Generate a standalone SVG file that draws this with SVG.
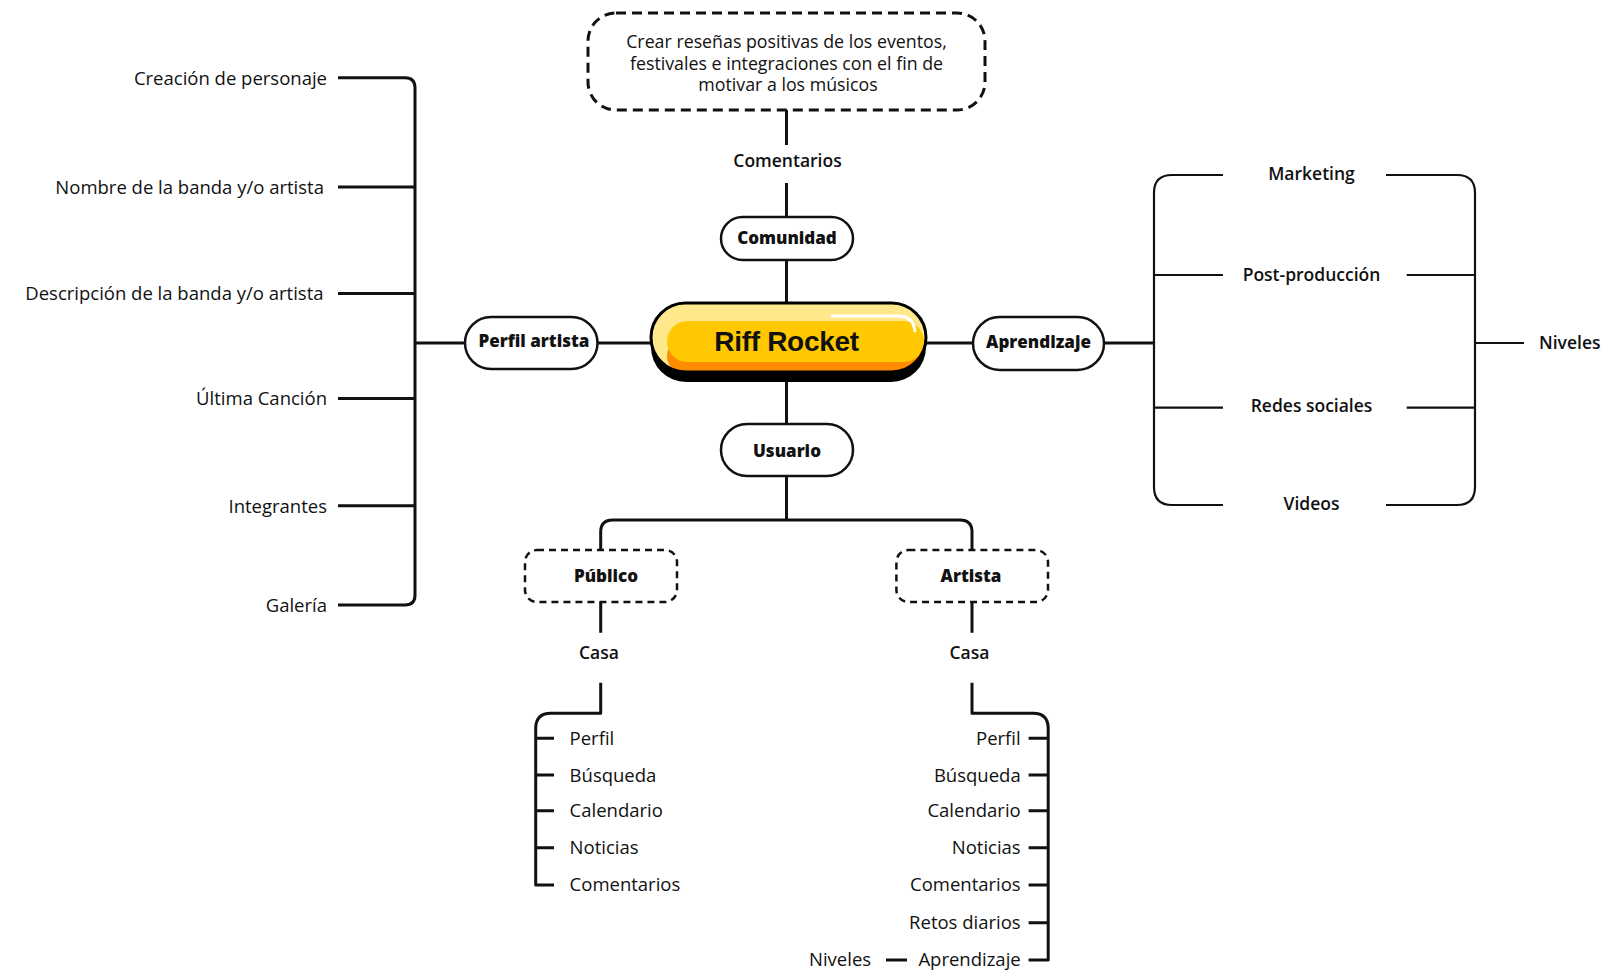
<svg xmlns="http://www.w3.org/2000/svg" width="1601" height="972" viewBox="0 0 1601 972">
<style>
.ln{fill:none;stroke:#111;stroke-width:3;stroke-linejoin:round}
.thin{fill:none;stroke:#111;stroke-width:2.2}
.box{fill:#fff;stroke:#111;stroke-width:2.5}
.dbig{fill:#fff;stroke:#111;stroke-width:3;stroke-dasharray:10 6}
.dsm{fill:#fff;stroke:#111;stroke-width:2.5;stroke-dasharray:7 5}
text{font-family:"Open Sans","Liberation Sans",sans-serif;fill:#111}
.r{font-size:18.5px;font-weight:400}
.t{font-size:17.8px;font-weight:400}
.s{font-size:17.5px;font-weight:600}
.b{font-size:17px;font-weight:800}
.c{text-anchor:middle}
.e{text-anchor:end}
</style>
<defs>
<clipPath id="pill"><rect x="651" y="303" width="275" height="69" rx="34.5"/></clipPath>
</defs>
<rect width="1601" height="972" fill="#fff"/>
<g id="connectors">
<path class="ln" d="M786.5,110V145M786.5,183V217M786.5,260V303M786.5,382V424M786.5,476V520"/>
<path class="ln" d="M600.7,550V532Q600.7,520 612.7,520H960Q972,520 972,532V550"/>
<path class="ln" d="M338,77.7H405Q415,77.7 415,87.7V595Q415,605 405,605H338M338,186.9H415M338,293.4H415M338,398.5H415M338,505.8H415M415,343H465M597.5,343H651"/>
<path class="ln" d="M926,343H973M1104,343H1154"/>
<path class="thin" d="M1223,175H1172Q1154,175 1154,193V487Q1154,505 1172,505H1223M1154,275H1223M1154,407.7H1223"/>
<path class="thin" d="M1386,175H1457Q1475,175 1475,193V487Q1475,505 1457,505H1386M1406.7,275H1475M1406.7,407.7H1475M1475,343H1524"/>
<path class="ln" d="M600.7,601.7V632.7M600.7,682.7V713.3H551Q535.7,713.3 535.7,728.6V885H554M535.7,738.3H554M535.7,775H554M535.7,810.7H554M535.7,847.7H554"/>
<path class="ln" d="M972,601.7V632.7M972,682.7V713.3H1033Q1048.2,713.3 1048.2,728.5V960H1028.6M1028.6,738.3H1048.2M1028.6,775H1048.2M1028.6,810.7H1048.2M1028.6,847.7H1048.2M1028.6,885H1048.2M1028.6,922.7H1048.2"/>
<path class="ln" d="M886,960H907"/>
</g>
<g id="n-nota">
<rect class="dbig" x="588" y="13" width="397" height="97" rx="28"/>
<text class="t c" x="786.5" y="48">Crear reseñas positivas de los eventos,</text>
<text class="t c" x="786.5" y="69.5">festivales e integraciones con el fin de</text>
<text class="t c" x="788" y="91">motivar a los músicos</text>
</g>
<g id="n-comentarios-top"><text class="s c" x="787.5" y="167">Comentarios</text></g>
<g id="n-comunidad">
<rect class="box" x="721" y="217" width="132" height="43" rx="21.5"/>
<text class="b c" x="787" y="244">Comunidad</text>
</g>
<g id="n-riff">
<rect x="651" y="312" width="275" height="70" rx="35" fill="#000"/>
<rect x="651" y="303" width="275" height="69" rx="34.5" fill="#FFE88C"/>
<g clip-path="url(#pill)">
<rect x="667" y="338" width="257" height="36" rx="18" fill="#FF8C00"/>
<rect x="667" y="321" width="257" height="41" rx="20.5" fill="#FFC800"/>
</g>
<rect x="651" y="303" width="275" height="69" rx="34.5" fill="none" stroke="#000" stroke-width="3"/>
<path d="M832,316H898Q913,316 915,331" fill="none" stroke="#fff" stroke-width="3" stroke-linecap="round"/>
<text x="786.5" y="351" text-anchor="middle" style="font-family:'Liberation Sans',Arial,sans-serif;font-size:28px;font-weight:700;letter-spacing:-0.3px" fill="#111">Riff Rocket</text>
</g>
<g id="n-perfil">
<rect class="box" x="465" y="317" width="132.5" height="52" rx="26"/>
<text class="b c" x="534" y="347">Perfil artista</text>
</g>
<g id="n-aprendizaje">
<rect class="box" x="973" y="317" width="131" height="53" rx="26.5"/>
<text class="b c" x="1038.5" y="348">Aprendizaje</text>
</g>
<g id="n-usuario">
<rect class="box" x="721" y="424" width="132" height="52" rx="26"/>
<text class="b c" x="787" y="457">Usuario</text>
</g>
<g id="n-perfil-items">
<text class="r e" x="327" y="85">Creación de personaje</text>
<text class="r e" x="324" y="193.5">Nombre de la banda y/o artista</text>
<text class="r e" x="323.5" y="300">Descripción de la banda y/o artista</text>
<text class="r e" x="327" y="405">Última Canción</text>
<text class="r e" x="327" y="512.5">Integrantes</text>
<text class="r e" x="327" y="611.5">Galería</text>
</g>
<g id="n-aprend-items">
<text class="s c" x="1311.5" y="180">Marketing</text>
<text class="s c" x="1311.5" y="281">Post-producción</text>
<text class="s c" x="1311.5" y="412">Redes sociales</text>
<text class="s c" x="1311.5" y="509.5">Videos</text>
<text class="s" x="1539" y="348.5">Niveles</text>
</g>
<g id="n-publico">
<rect class="dsm" x="525" y="550" width="152" height="52" rx="12"/>
<text class="b c" x="606" y="582">Público</text>
</g>
<g id="n-artista">
<rect class="dsm" x="896.4" y="550" width="151.6" height="52" rx="12"/>
<text class="b c" x="971" y="582">Artista</text>
</g>
<g id="n-casa-publico"><text class="s c" x="599" y="658.5">Casa</text></g>
<g id="n-casa-artista"><text class="s c" x="969.5" y="658.5">Casa</text></g>
<g id="n-publico-items">
<text class="r" x="569.6" y="745">Perfil</text>
<text class="r" x="569.6" y="781.5">Búsqueda</text>
<text class="r" x="569.6" y="817">Calendario</text>
<text class="r" x="569.6" y="854">Noticias</text>
<text class="r" x="569.6" y="891">Comentarios</text>
</g>
<g id="n-artista-items">
<text class="r e" x="1020.7" y="745">Perfil</text>
<text class="r e" x="1020.7" y="781.5">Búsqueda</text>
<text class="r e" x="1020.7" y="817">Calendario</text>
<text class="r e" x="1020.7" y="854">Noticias</text>
<text class="r e" x="1020.7" y="891">Comentarios</text>
<text class="r e" x="1020.7" y="928.5">Retos diarios</text>
<text class="r e" x="1020.7" y="966">Aprendizaje</text>
<text class="r" x="809" y="966">Niveles</text>
</g>
</svg>
